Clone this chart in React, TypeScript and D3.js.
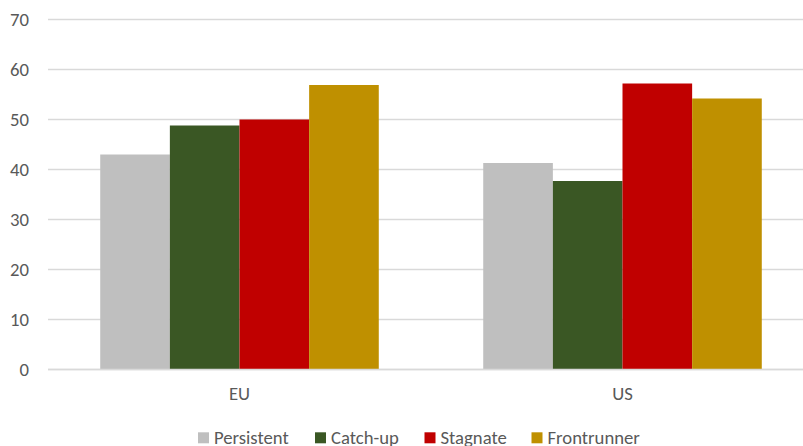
import React from "react";
import * as d3 from "d3";

const regions = ["EU", "US"];
const seriesNames = ["Persistent", "Catch-up", "Stagnate", "Frontrunner"];
const persistent = [43.0, 41.3];
const catchUp = [48.8, 37.7];
const stagnate = [50.0, 57.2];
const frontrunner = [56.9, 54.2];
const seriesColors = ["#BFBFBF", "#3A5724", "#C00000", "#BF9000"];
const yTicks = [0, 10, 20, 30, 40, 50, 60, 70];

const W = 803;
const H = 446;
const plot = { left: 48, right: 814, top: 19.5, bottom: 369.5 };
const font = "Carlito, Calibri, 'Open Sans', 'Liberation Sans', sans-serif";
const fontSize = 18.7;

export default function App() {
  const values = [persistent, catchUp, stagnate, frontrunner];

  // each category band holds the bar group plus half a gap on each side
  const band = d3.scaleBand<string>().domain(regions).range([plot.left, plot.right]);
  const groupW = band.bandwidth() * (278.4 / 382.8);
  const x1 = d3.scaleBand<string>().domain(seriesNames).range([0, groupW]);
  const y = d3.scaleLinear().domain([0, 70]).range([plot.bottom, plot.top]);

  const legendX = [198, 315, 424.5, 531.5];

  return (
    <svg width={W} height={H} style={{ position: "absolute", left: 0, top: 0, background: "#fff" }}>
      <rect width={W} height={H} fill="#fff" />
      {yTicks.map((t) => (
        <g key={t}>
          <line x1={plot.left} x2={plot.right} y1={y(t)} y2={y(t)} stroke="#D9D9D9" strokeWidth={1.3} />
          <text x={29} y={y(t)} dy="0.34em" textAnchor="end" fontSize={fontSize} fill="#595959" fontFamily={font}>
            {t}
          </text>
        </g>
      ))}
      {regions.map((r) => {
        const gx = band(r)! + (band.bandwidth() - groupW) / 2;
        return (
          <g key={r}>
            {seriesNames.map((s, si) => {
              const v = values[si][regions.indexOf(r)];
              return (
                <rect
                  key={s}
                  x={gx + x1(s)!}
                  y={y(v)}
                  width={x1.bandwidth()}
                  height={y(0) - y(v)}
                  fill={seriesColors[si]}
                />
              );
            })}
            <text
              x={band(r)! + band.bandwidth() / 2}
              y={400}
              textAnchor="middle"
              fontSize={fontSize}
              fill="#595959"
              fontFamily={font}
            >
              {r}
            </text>
          </g>
        );
      })}
      <line x1={plot.left} x2={plot.right} y1={y(0)} y2={y(0)} stroke="#D9D9D9" strokeWidth={1.3} />
      {seriesNames.map((s, i) => (
        <g key={s}>
          <rect x={legendX[i]} y={432.3} width={11} height={11} fill={seriesColors[i]} />
          <text x={legendX[i] + 16} y={444.3} fontSize={fontSize} fill="#595959" fontFamily={font}>
            {s}
          </text>
        </g>
      ))}
    </svg>
  );
}
